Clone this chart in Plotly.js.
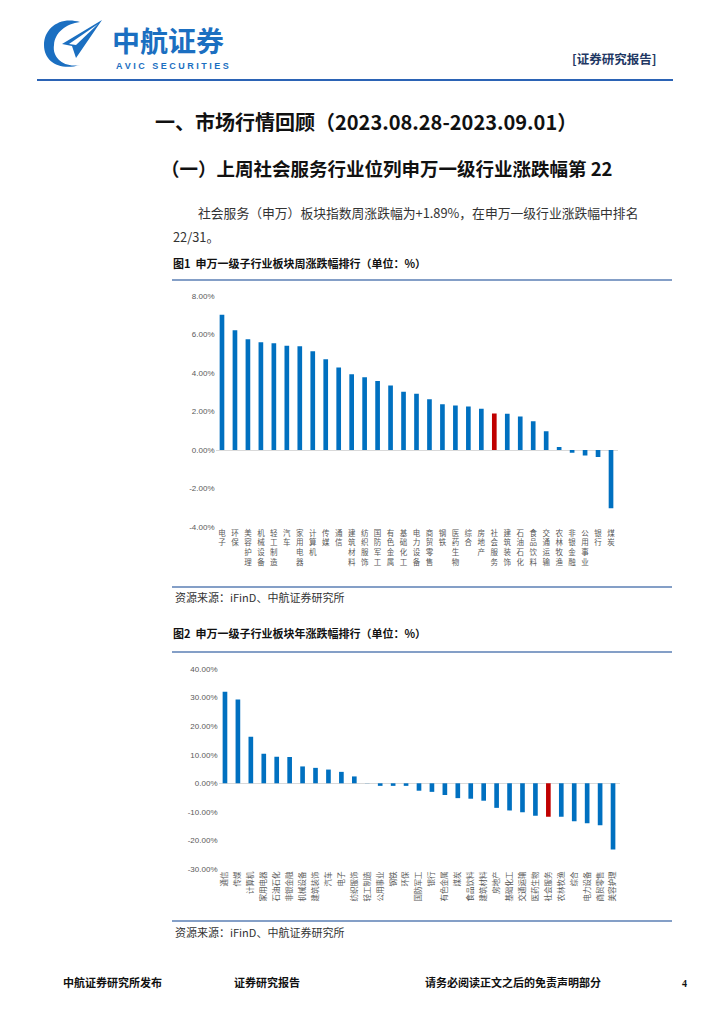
<!DOCTYPE html>
<html><head><meta charset="utf-8">
<script src="https://cdn.plot.ly/plotly-3.0.1.min.js"></script>
<style>html,body{margin:0;padding:0;background:#fff}#c{width:724px;height:1024px}</style>
</head><body><div id="c"></div>
<script>
const weekCats = ["电子","环保","美容护理","机械设备","轻工制造","汽车","家用电器","计算机","传媒","通信","建筑材料","纺织服饰","国防军工","有色金属","基础化工","电力设备","商贸零售","钢铁","医药生物","综合","房地产","社会服务","建筑装饰","石油石化","食品饮料","交通运输","农林牧渔","非银金融","公用事业","银行","煤炭"];
const weekVals = [7.03,6.22,5.75,5.60,5.54,5.42,5.39,5.13,4.71,4.28,3.94,3.78,3.59,3.35,3.02,2.92,2.64,2.38,2.31,2.26,2.14,1.89,1.88,1.74,1.50,0.98,0.16,-0.14,-0.28,-0.36,-3.02];
const yearCats = ["通信","传媒","计算机","家用电器","石油石化","非银金融","机械设备","建筑装饰","汽车","电子","纺织服饰","轻工制造","公用事业","钢铁","环保","国防军工","银行","有色金属","煤炭","食品饮料","建筑材料","房地产","基础化工","交通运输","医药生物","社会服务","农林牧渔","综合","电力设备","商贸零售","美容护理"];
const yearVals = [32.0,29.3,16.3,10.3,9.3,9.2,5.9,5.4,4.8,4.0,2.4,0.05,-0.9,-0.9,-0.9,-2.6,-3.0,-4.1,-5.2,-5.4,-6.1,-8.6,-9.5,-10.1,-11.4,-11.7,-11.7,-13.3,-14.0,-14.7,-23.2];
const weekTicks = [-4,-2,0,2,4,6,8];
const yearTicks = [-30,-20,-10,0,10,20,30,40];
const highlight = "社会服务";

const BLUE = "#0070c0", RED = "#c00000";
const W = 724, H = 1024;
const px = x => x / W, py = y => 1 - y / H;
const CJK = "Noto Sans CJK SC";

const traces = [
  {type:"bar", x:weekCats, y:weekVals, xaxis:"x", yaxis:"y",
   marker:{color:weekCats.map(c=>c===highlight?RED:BLUE)}, hoverinfo:"x+y"},
  {type:"bar", x:yearCats, y:yearVals, xaxis:"x2", yaxis:"y2",
   marker:{color:yearCats.map(c=>c===highlight?RED:BLUE)}, hoverinfo:"x+y"},
  {type:"scatter", x:[], y:[], xaxis:"x3", yaxis:"y3", hoverinfo:"skip", showlegend:false}
];

const tickFont = {family:"Liberation Sans, Arial", size:8, color:"#595959"};
const catFont = {family:CJK, size:7.5, color:"#595959"};

const layout = {
  width:W, height:H, margin:{l:0,r:0,t:0,b:0},
  paper_bgcolor:"#fff", plot_bgcolor:"rgba(0,0,0,0)",
  showlegend:false, bargap:0.64,
  xaxis:{domain:[px(215.5),px(617.5)], anchor:"y", type:"category",
    tickvals:weekCats, ticktext:weekCats.map(c=>c.split("").join("<br>")),
    tickangle:0, tickfont:catFont, showline:false, ticks:"", showgrid:false, fixedrange:true},
  yaxis:{domain:[py(527),py(296)], anchor:"x", range:[-4,8], tickvals:weekTicks,
    ticktext:weekTicks.map(v=>v.toFixed(2)+"%"), tickfont:tickFont, showgrid:false,
    zeroline:true, zerolinecolor:"#d9d9d9", zerolinewidth:1, ticks:"", fixedrange:true},
  xaxis2:{domain:[px(218.5),px(619.5)], anchor:"y2", type:"category",
    tickangle:-90, tickfont:catFont, showline:false, ticks:"", showgrid:false, fixedrange:true},
  yaxis2:{domain:[py(869),py(669)], anchor:"x2", range:[-30,40], tickvals:yearTicks,
    ticktext:yearTicks.map(v=>v.toFixed(2)+"%"), tickfont:tickFont, showgrid:false,
    zeroline:true, zerolinecolor:"#d9d9d9", zerolinewidth:1, ticks:"", fixedrange:true},
  xaxis3:{domain:[0,1], anchor:"y3", range:[0,W], visible:false, fixedrange:true},
  yaxis3:{domain:[0,1], anchor:"x3", range:[H,0], visible:false, fixedrange:true},
  shapes:[
    // logo mark
    {type:"path", xref:"x3", yref:"y3", line:{width:0}, fillcolor:"#1b6fc1",
     path:"M 80 22 C 60 16 44 28 44 45 C 44 62 60 71 80 65 C 64 68 52 58 54 45 C 55 32 66 24 80 22 Z"},
    {type:"path", xref:"x3", yref:"y3", line:{width:0}, fillcolor:"#1b6fc1",
     path:"M 102 20 L 62 44 L 72 46 L 76 58 Z"},
    {type:"path", xref:"x3", yref:"y3", line:{width:0}, fillcolor:"#ffffff",
     path:"M 98 24 L 69 44 L 76 45 Z"},
    {type:"line", xref:"x3", yref:"y3", x0:37, x1:673, y0:80, y1:80, line:{color:"#2b63b5", width:2}},
    {type:"line", xref:"x3", yref:"y3", x0:172, x1:672, y0:280, y1:280, line:{color:"#5b7fb4", width:1.5}},
    {type:"line", xref:"x3", yref:"y3", x0:172, x1:672, y0:587, y1:587, line:{color:"#5b7fb4", width:1.5}},
    {type:"line", xref:"x3", yref:"y3", x0:172, x1:672, y0:652, y1:652, line:{color:"#5b7fb4", width:1.5}},
    {type:"line", xref:"x3", yref:"y3", x0:172, x1:672, y0:921, y1:921, line:{color:"#5b7fb4", width:1.5}}
  ],
  annotations:[]
};

function txt(x, y, text, size, opts) {
  opts = opts || {};
  layout.annotations.push({xref:"x3", yref:"y3", x:x, y:y, text:text, showarrow:false,
    xanchor:opts.anchor||"left", yanchor:"middle", borderpad:0,
    font:{family:opts.family||CJK, size:size, color:opts.color||"#000"}});
}
txt(111, 40, "<b>中航证券</b>", 28, {color:"#1b6fc1"});
txt(115, 66, "<b>A V I C   S E C U R I T I E S</b>", 9, {color:"#1b6fc1", family:"Liberation Sans, Arial"});
txt(571, 58, "<b>[证券研究报告]</b>", 12.5, {color:"#1f3864"});
txt(154, 121, "<b>一、市场行情回顾（2023.08.28-2023.09.01）</b>", 20, {color:"#111"});
txt(160, 168, "<b>（一）上周社会服务行业位列申万一级行业涨跌幅第 22</b>", 18.5, {color:"#111"});
txt(197, 212, "社会服务（申万）板块指数周涨跌幅为+1.89%，在申万一级行业涨跌幅中排名", 12.8, {color:"#333"});
txt(172, 236, "22/31。", 12.8, {color:"#333"});
txt(172, 263, "<b>图1  申万一级子行业板块周涨跌幅排行（单位：%）</b>", 11, {color:"#111"});
txt(174, 597, "资源来源：iFinD、中航证券研究所", 11, {color:"#333"});
txt(172, 633, "<b>图2  申万一级子行业板块年涨跌幅排行（单位：%）</b>", 11, {color:"#111"});
txt(174, 932, "资源来源：iFinD、中航证券研究所", 11, {color:"#333"});
txt(62, 982, "<b>中航证券研究所发布</b>", 11, {color:"#111"});
txt(233, 982, "<b>证券研究报告</b>", 11, {color:"#111"});
txt(424, 982, "<b>请务必阅读正文之后的免责声明部分</b>", 11, {color:"#111"});
txt(681, 983, "<b>4</b>", 10, {color:"#111", family:"Liberation Serif"});

Plotly.newPlot("c", traces, layout, {staticPlot:true, displayModeBar:false});
</script></body></html>
